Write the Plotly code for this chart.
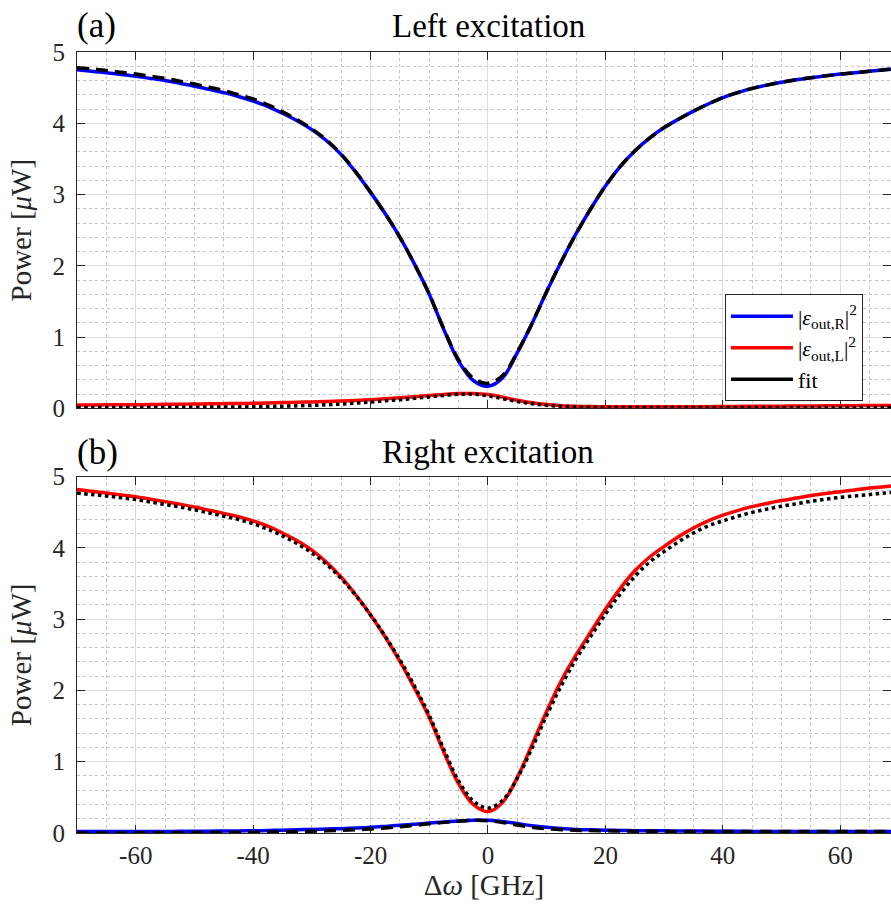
import plotly.graph_objects as go

# Detuning samples shared by every measured and fitted trace [GHz], 2.5 GHz step
detuning = [-70 + 2.5 * i for i in range(57)]

# (a) Left excitation [uW]
left_exc_R = [4.75, 4.73, 4.71, 4.685, 4.66, 4.63, 4.60, 4.56, 4.52, 4.475, 4.43, 4.375, 4.31, 4.235,
              4.14, 4.035, 3.91, 3.755, 3.56, 3.31, 3.03, 2.73, 2.40, 2.02, 1.60, 1.10, 0.66, 0.39,
              0.31,
              0.43, 0.78, 1.19, 1.64, 2.06, 2.45, 2.80, 3.12, 3.39, 3.61, 3.79, 3.94, 4.06, 4.17,
              4.27, 4.36, 4.43, 4.49, 4.535, 4.575, 4.61, 4.64, 4.665, 4.69, 4.71, 4.73, 4.75, 4.77]
left_exc_R_fit = [4.78, 4.76, 4.74, 4.715, 4.69, 4.66, 4.63, 4.59, 4.55, 4.505, 4.46, 4.40, 4.34, 4.26,
                  4.16, 4.05, 3.92, 3.765, 3.565, 3.315, 3.03, 2.73, 2.40, 2.02, 1.60, 1.11, 0.68, 0.42,
                  0.35,
                  0.46, 0.79, 1.19, 1.64, 2.06, 2.45, 2.80, 3.12, 3.39, 3.61, 3.79, 3.94, 4.06, 4.17,
                  4.27, 4.36, 4.43, 4.49, 4.535, 4.575, 4.61, 4.64, 4.665, 4.69, 4.71, 4.73, 4.75, 4.77]
left_exc_L = [0.045, 0.046, 0.048, 0.049, 0.050, 0.052, 0.055, 0.057, 0.060, 0.062, 0.065, 0.067, 0.070, 0.075,
              0.080, 0.085, 0.090, 0.095, 0.102, 0.110, 0.120, 0.133, 0.148, 0.163, 0.178, 0.195, 0.207, 0.208,
              0.192,
              0.155, 0.112, 0.077, 0.052, 0.037, 0.029, 0.024, 0.021, 0.020, 0.020, 0.020, 0.020, 0.021, 0.022,
              0.023, 0.025, 0.026, 0.028, 0.029, 0.030, 0.032, 0.033, 0.034, 0.035, 0.037, 0.038, 0.039, 0.040]
left_exc_L_fit = [0.010, 0.010, 0.010, 0.011, 0.012, 0.013, 0.014, 0.015, 0.016, 0.017, 0.018, 0.019, 0.021, 0.025,
                  0.030, 0.035, 0.041, 0.049, 0.059, 0.073, 0.089, 0.105, 0.121, 0.140, 0.160, 0.180, 0.196, 0.198,
                  0.175,
                  0.135, 0.095, 0.063, 0.042, 0.029, 0.021, 0.016, 0.013, 0.012, 0.011, 0.010, 0.010, 0.010, 0.010,
                  0.010, 0.010, 0.010, 0.010, 0.010, 0.010, 0.010, 0.010, 0.010, 0.010, 0.010, 0.010, 0.010, 0.010]

# (b) Right excitation [uW]
right_exc_L = [4.82, 4.795, 4.77, 4.745, 4.72, 4.685, 4.65, 4.615, 4.575, 4.53, 4.485, 4.44, 4.38, 4.305,
               4.21, 4.10, 3.97, 3.80, 3.59, 3.34, 3.06, 2.75, 2.41, 2.03, 1.62, 1.13, 0.69, 0.40,
               0.30,
               0.43, 0.78, 1.24, 1.71, 2.14, 2.50, 2.82, 3.14, 3.43, 3.68, 3.87, 4.02, 4.16, 4.28,
               4.38, 4.46, 4.525, 4.58, 4.625, 4.665, 4.70, 4.735, 4.765, 4.79, 4.815, 4.84, 4.86, 4.88]
right_exc_L_fit = [4.77, 4.75, 4.73, 4.705, 4.68, 4.645, 4.61, 4.575, 4.535, 4.49, 4.445, 4.40, 4.34, 4.265,
                   4.17, 4.06, 3.93, 3.77, 3.57, 3.33, 3.06, 2.76, 2.43, 2.06, 1.65, 1.17, 0.73, 0.45,
                   0.35,
                   0.46, 0.77, 1.19, 1.65, 2.07, 2.44, 2.76, 3.07, 3.35, 3.60, 3.80, 3.95, 4.09, 4.21,
                   4.31, 4.38, 4.445, 4.50, 4.545, 4.585, 4.62, 4.655, 4.685, 4.71, 4.73, 4.75, 4.77, 4.79]
right_exc_R = [0.020, 0.020, 0.020, 0.020, 0.021, 0.021, 0.022, 0.023, 0.025, 0.026, 0.028, 0.029, 0.031, 0.035,
               0.040, 0.045, 0.050, 0.055, 0.061, 0.069, 0.079, 0.093, 0.108, 0.123, 0.139, 0.154, 0.168, 0.178,
               0.179,
               0.162, 0.132, 0.103, 0.080, 0.062, 0.050, 0.044, 0.040, 0.036, 0.033, 0.031, 0.030, 0.029, 0.028,
               0.026, 0.025, 0.024, 0.022, 0.021, 0.020, 0.020, 0.020, 0.020, 0.020, 0.020, 0.020, 0.020, 0.020]
right_exc_R_fit = [0.000, 0.000, 0.001, 0.001, 0.002, 0.003, 0.004, 0.005, 0.006, 0.007, 0.008, 0.009, 0.011, 0.013,
                   0.016, 0.020, 0.025, 0.030, 0.037, 0.045, 0.056, 0.070, 0.088, 0.108, 0.129, 0.149, 0.166, 0.177,
                   0.172,
                   0.148, 0.112, 0.082, 0.061, 0.047, 0.039, 0.034, 0.031, 0.028, 0.026, 0.024, 0.023, 0.022, 0.021,
                   0.020, 0.020, 0.020, 0.020, 0.020, 0.020, 0.020, 0.020, 0.020, 0.020, 0.020, 0.020, 0.020, 0.020]

x_tick_vals = [-60, -40, -20, 0, 20, 40, 60]
x_tick_text = ["-60", "-40", "-20", "0", "20", "40", "60"]
y_tick_vals = [0, 1, 2, 3, 4, 5]

legend_R = "|<i>ε</i><sub>out,R</sub>|<sup>2</sup>"
legend_L = "|<i>ε</i><sub>out,L</sub>|<sup>2</sup>"

BLUE = "#0000ff"
RED = "#ff0000"
BLACK = "#000000"
AXIS = "#262626"
FONT = "Liberation Serif"
LW = 3.5
DASHED = "12px,7px"
DOTTED = "dot"

fig = go.Figure()


def add_line(y, color, dash, xa, ya, name=None, show=False):
    fig.add_trace(go.Scatter(
        x=detuning, y=y, mode="lines", name=name, showlegend=show,
        line=dict(color=color, width=LW, dash=dash, shape="spline", smoothing=1.0),
        xaxis=xa, yaxis=ya, hoverinfo="skip"))


# panel (a): measured traces first, fits drawn over them
add_line(left_exc_R, BLUE, "solid", "x", "y", legend_R, True)
add_line(left_exc_L, RED, "solid", "x", "y", legend_L, True)
add_line(left_exc_R_fit, BLACK, DASHED, "x", "y")
add_line(left_exc_L_fit, BLACK, DOTTED, "x", "y")
# legend key for the fits
fig.add_trace(go.Scatter(x=[None], y=[None], mode="lines", name="fit",
                         line=dict(color=BLACK, width=LW), xaxis="x", yaxis="y"))

# panel (b)
add_line(right_exc_L, RED, "solid", "x2", "y2")
add_line(right_exc_R, BLUE, "solid", "x2", "y2")
add_line(right_exc_L_fit, BLACK, DOTTED, "x2", "y2")
add_line(right_exc_R_fit, BLACK, DASHED, "x2", "y2")

tick_font = dict(family=FONT, size=25, color=AXIS)
title_font = dict(family=FONT, size=29, color=AXIS)

common = dict(
    showline=True, linecolor=AXIS, linewidth=1, mirror="ticks",
    ticks="inside", ticklen=8, tickwidth=1, tickcolor=AXIS,
    tickfont=tick_font, showgrid=True, gridcolor="#dcdcdc", gridwidth=1,
    zeroline=False, layer="below traces",
)
x_common = dict(common, range=[-70, 68.64], tickmode="array",
                tickvals=x_tick_vals, ticktext=x_tick_text,
                minor=dict(dtick=5, showgrid=True, gridcolor="#c4c4c4",
                           griddash="dot", gridwidth=1, ticks=""))
y_common = dict(common, range=[0, 5], tickmode="array", tickvals=y_tick_vals,
                ticklabelstandoff=6,
                minor=dict(dtick=0.2, showgrid=True, gridcolor="#c4c4c4",
                           griddash="dot", gridwidth=1, ticks=""),
                title=dict(text="Power [<i>μ</i>W]", font=title_font, standoff=12))

fig.update_layout(
    width=891, height=913,
    margin=dict(l=77, r=0, t=52, b=80),
    paper_bgcolor="white", plot_bgcolor="white",
    xaxis=dict(x_common, domain=[0, 1], anchor="y", showticklabels=False),
    yaxis=dict(y_common, domain=[0.5438, 1], anchor="x"),
    xaxis2=dict(x_common, domain=[0, 1], anchor="y2",
                title=dict(text="Δ<i>ω</i> [GHz]", font=title_font, standoff=6)),
    yaxis2=dict(y_common, domain=[0, 0.4562], anchor="x2"),
    showlegend=True,
    legend=dict(x=0.796, y=0.6897, xanchor="left", yanchor="top",
                bgcolor="white", bordercolor=AXIS, borderwidth=1,
                font=dict(family=FONT, size=22, color=BLACK),
                tracegroupgap=0, itemwidth=62),
)

panel_font = dict(family=FONT, size=35, color=BLACK)
head_font = dict(family=FONT, size=33, color=BLACK)
fig.add_annotation(text="(a)", x=-0.002, y=1.0333, xref="paper", yref="paper",
                   xanchor="left", yanchor="middle", showarrow=False, font=panel_font)
fig.add_annotation(text="Left excitation", x=0.505, y=1.0333, xref="paper", yref="paper",
                   xanchor="center", yanchor="middle", showarrow=False, font=head_font)
fig.add_annotation(text="(b)", x=-0.002, y=0.4878, xref="paper", yref="paper",
                   xanchor="left", yanchor="middle", showarrow=False, font=panel_font)
fig.add_annotation(text="Right excitation", x=0.505, y=0.4878, xref="paper", yref="paper",
                   xanchor="center", yanchor="middle", showarrow=False, font=head_font)

fig.write_html("out.html")
